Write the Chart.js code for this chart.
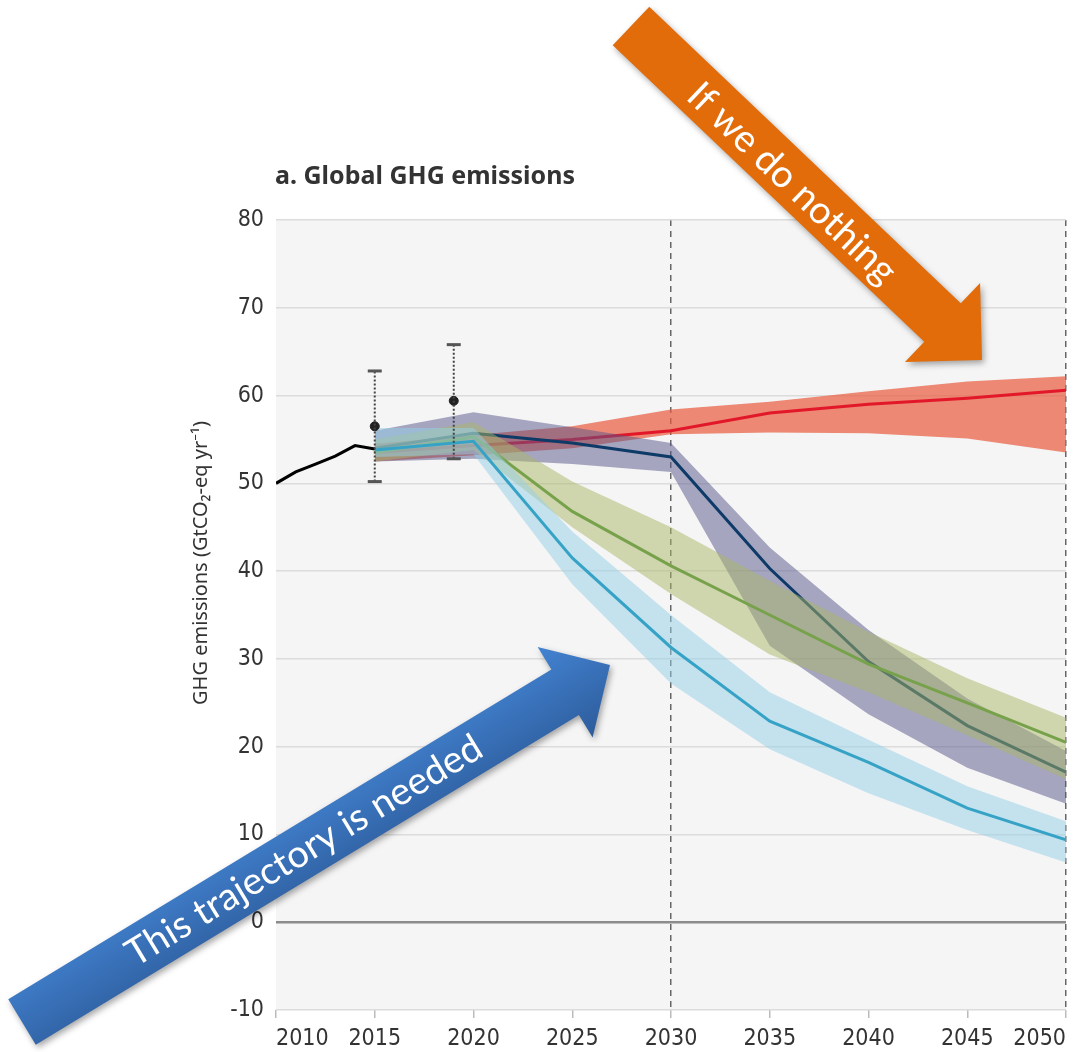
<!DOCTYPE html>
<html lang="en">
<head>
<meta charset="UTF-8">
<title>Global GHG emissions</title>
<script src="https://cdn.jsdelivr.net/npm/chart.js"></script>
<style>
  body { margin: 0; background: #fff; }
  #wrap { position: relative; width: 1077px; height: 1052px; }
</style>
</head>
<body>
<div id="wrap"><canvas id="chart"></canvas></div>
<script>
// historical emissions (black line)
const histYears = [2010, 2011, 2012, 2013, 2014, 2015];
const histValues = [50.0, 51.3, 52.2, 53.1, 54.3, 53.9];

// scenario years
const years = [2015, 2020, 2025, 2030, 2035, 2040, 2045, 2050];

// current policies (red)
const redMid  = [53.5, 54.3, 55.0, 56.0, 58.0, 59.0, 59.7, 60.6];
const redHigh = [54.5, 55.5, 56.5, 58.4, 59.3, 60.5, 61.6, 62.2];
const redLow  = [52.5, 53.2, 54.0, 55.6, 55.8, 55.7, 55.1, 53.5];

// NDCs, then steep cut (navy)
const navyMid  = [54.0, 55.7, 54.6, 53.0, 40.3, 29.7, 22.4, 17.1];
const navyHigh = [56.0, 58.1, 56.4, 54.6, 42.7, 33.3, 25.5, 19.5];
const navyLow  = [52.5, 52.8, 52.2, 51.3, 31.5, 23.7, 17.6, 13.5];

// 2°C pathway (green)
const greenMid  = [53.5, 55.3, 46.8, 40.6, 35.0, 29.4, 25.0, 20.5];
const greenHigh = [55.0, 57.0, 50.2, 45.0, 38.9, 33.1, 27.8, 23.3];
const greenLow  = [52.5, 53.8, 45.0, 37.4, 30.5, 26.2, 21.3, 16.3];

// 1.5°C pathway (light blue)
const blueMid  = [53.8, 54.8, 41.5, 31.3, 22.9, 18.2, 13.0, 9.4];
const blueHigh = [56.3, 56.3, 44.5, 35.0, 26.2, 20.8, 15.5, 11.5];
const blueLow  = [53.0, 53.3, 38.5, 27.2, 19.7, 14.7, 10.5, 6.8];

// observed estimates with uncertainty
const errYears = [2015, 2019];
const errLow  = [50.2, 52.8];
const errMid  = [56.5, 59.4];
const errHigh = [62.8, 65.8];

const xTicks = [2010, 2015, 2020, 2025, 2030, 2035, 2040, 2045, 2050];
const yTicks = [-10, 0, 10, 20, 30, 40, 50, 60, 70, 80];
const markerYears = [2030, 2050];

const tickFont = '"Liberation Sans Narrow", "DejaVu Sans Condensed", "Noto Sans", sans-serif';

function pts(xs, ys) {
  return xs.map((x, i) => ({ x: x, y: ys[i] }));
}

function line(label, ys, color, order) {
  return { label: label, data: pts(years, ys), borderColor: color, borderWidth: 3,
           pointRadius: 0, fill: false, order: order };
}

function band(label, hi, lo, color, order) {
  return [
    { label: label + ' high', data: pts(years, hi), borderWidth: 0, borderColor: 'transparent',
      pointRadius: 0, fill: '+1', backgroundColor: color, order: order },
    { label: label + ' low', data: pts(years, lo), borderWidth: 0, borderColor: 'transparent',
      pointRadius: 0, fill: false, order: order }
  ];
}

const datasets = [];
// error bars
errYears.forEach((yr, i) => {
  datasets.push({
    label: 'range ' + yr, data: [{ x: yr, y: errLow[i] }, { x: yr, y: errHigh[i] }],
    borderColor: '#444', borderWidth: 2, borderDash: [2, 2],
    pointStyle: 'line', pointRadius: 7, pointBorderWidth: 3, pointBorderColor: '#555',
    fill: false, order: 0
  });
});
datasets.push({
  label: 'estimate', data: pts(errYears, errMid), showLine: false,
  pointRadius: 4.5, pointBackgroundColor: '#222', pointBorderColor: '#222', order: 0
});
datasets.push({
  label: 'historical', data: pts(histYears, histValues), borderColor: '#000', borderWidth: 3,
  pointRadius: 0, fill: false, order: 1
});
datasets.push(line('1.5C', blueMid, '#36a3c6', 2));
datasets.push(...band('1.5C', blueHigh, blueLow, 'rgba(147,207,231,0.5)', 3));
datasets.push(line('2C', greenMid, '#77a24b', 4));
datasets.push(...band('2C', greenHigh, greenLow, 'rgba(169,183,103,0.5)', 5));
datasets.push(line('NDC', navyMid, '#0d3a66', 6));
datasets.push(...band('NDC', navyHigh, navyLow, 'rgba(85,85,139,0.5)', 7));
datasets.push(line('current', redMid, '#e3172a', 8));
datasets.push(...band('current', redHigh, redLow, 'rgba(232,90,60,0.7)', 9));

function drawArrow(ctx, tail, tip, shaftHalf, headHalf, headLen, fill, text, textPos, textOff, font) {
  const dx = tip[0] - tail[0], dy = tip[1] - tail[1];
  const len = Math.hypot(dx, dy);
  ctx.save();
  ctx.translate(tail[0], tail[1]);
  ctx.rotate(Math.atan2(dy, dx));
  ctx.beginPath();
  ctx.moveTo(0, -shaftHalf);
  ctx.lineTo(len - headLen, -shaftHalf);
  ctx.lineTo(len - headLen, -headHalf);
  ctx.lineTo(len, 0);
  ctx.lineTo(len - headLen, headHalf);
  ctx.lineTo(len - headLen, shaftHalf);
  ctx.lineTo(0, shaftHalf);
  ctx.closePath();
  ctx.shadowColor = 'rgba(0,0,0,0.35)';
  ctx.shadowBlur = 6;
  ctx.shadowOffsetX = 2;
  ctx.shadowOffsetY = 3;
  if (Array.isArray(fill)) {
    const g = ctx.createLinearGradient(0, -headHalf, 0, headHalf);
    g.addColorStop(0, fill[0]);
    g.addColorStop(1, fill[1]);
    ctx.fillStyle = g;
  } else {
    ctx.fillStyle = fill;
  }
  ctx.fill();
  ctx.shadowColor = 'transparent';
  ctx.fillStyle = '#fff';
  ctx.font = font;
  ctx.textAlign = 'center';
  ctx.textBaseline = 'middle';
  ctx.fillText(text, textPos, textOff);
  ctx.restore();
}

const decor = {
  id: 'decor',
  beforeDraw(chart) {
    const { ctx, chartArea: a } = chart;
    ctx.save();
    ctx.fillStyle = '#fff';
    ctx.fillRect(0, 0, chart.width, chart.height);
    ctx.fillStyle = '#f5f5f5';
    ctx.fillRect(a.left, a.top, a.right - a.left, a.bottom - a.top);
    ctx.restore();
  },
  afterDraw(chart) {
    const { ctx, chartArea: a } = chart;
    ctx.save();
    ctx.fillStyle = '#333';
    ctx.font = 'bold 25px "Noto Sans", sans-serif';
    ctx.textBaseline = 'middle';
    ctx.fillText('a. Global GHG emissions', a.left - 1, 177);
    ctx.translate(201, 563);
    ctx.rotate(-Math.PI / 2);
    ctx.textAlign = 'center';
    ctx.font = '20px "Noto Sans", sans-serif';
    ctx.fillText('GHG emissions (GtCO\u2082-eq yr\u207B\u00B9)', 0, 0);
    ctx.restore();

    drawArrow(ctx, [631, 26], [982, 360], 26.5, 54.5, 54.5, '#e36c0a',
              'If we do nothing', 225, 3, '38px Lato, "Open Sans", sans-serif');
    drawArrow(ctx, [22, 1022], [610, 665], 26.5, 53, 52.5, ['#4383d2', '#2d5c9b'],
              'This trajectory is needed', 330, 0, '38px Lato, "Open Sans", sans-serif');
  }
};

new Chart(document.getElementById('chart'), {
  type: 'line',
  data: { datasets: datasets },
  plugins: [decor],
  options: {
    responsive: true,
    maintainAspectRatio: false,
    animation: false,
    events: [],
    layout: { padding: { left: 0, right: 11, top: 220, bottom: 0 } },
    plugins: { legend: { display: false }, tooltip: { enabled: false }, title: { display: false } },
    scales: {
      x: {
        type: 'linear', min: 2010, max: 2050,
        afterBuildTicks: axis => { axis.ticks = xTicks.map(v => ({ value: v })); },
        afterFit: axis => { axis.height = 42; axis.paddingLeft = 0; axis.paddingRight = 0; },
        ticks: { callback: v => String(v), color: '#333', padding: 7, maxRotation: 0, align: 'inner',
                 font: { family: tickFont, size: 23 } },
        grid: {
          color: c => markerYears.includes(c.tick && c.tick.value) ? '#666' : 'rgba(0,0,0,0)',
          lineWidth: 1.5, drawTicks: true, tickLength: 8, tickColor: '#bbb', tickWidth: 1.5
        },
        border: { display: false, dash: [6, 5] }
      },
      y: {
        min: -10, max: 80,
        afterBuildTicks: axis => { axis.ticks = yTicks.map(v => ({ value: v })); },
        afterFit: axis => { axis.width = 276; axis.paddingTop = 0; axis.paddingBottom = 0; },
        ticks: { color: '#333', padding: 12, font: { family: tickFont, size: 23 } },
        grid: {
          color: c => (c.tick && c.tick.value === 0) ? '#8c8c8c' : '#dcdcdc',
          lineWidth: c => (c.tick && c.tick.value === 0) ? 2.5 : 1.5,
          drawTicks: false
        },
        border: { display: false }
      }
    }
  }
});
</script>
</body>
</html>
